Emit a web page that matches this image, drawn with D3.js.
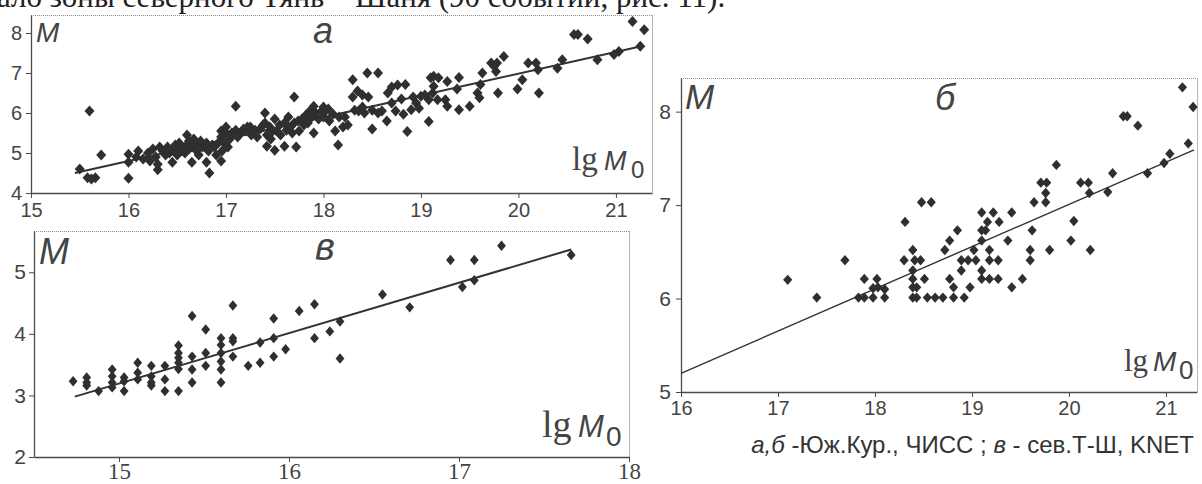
<!DOCTYPE html>
<html>
<head>
<meta charset="utf-8">
<script src="https://cdn.jsdelivr.net/npm/d3@7"></script>
<style>
  body { margin: 0; background: #fff; }
  svg { display: block; }
</style>
</head>
<body>
<svg id="chart" width="1202" height="484"></svg>
<script>
// header line, cut by the top edge of the scan
const headerText = "ало зоны северного Тянь – Шаня (90 событий, рис. 11).";

// panel а : lg M0 vs M, South Kuril, ЧИСС
const ticksAx = [15, 16, 17, 18, 19, 20, 21];
const ticksAy = [4, 5, 6, 7, 8];
const lineA = [[15.45, 4.5], [21.26, 7.67]];
const pointsA = [
  [15.5,4.6],[15.58,4.38],[15.62,4.35],[15.66,4.38],[15.6,6.05],[15.72,4.95],
  [16.0,4.97],[16.0,4.77],[16.0,4.37],[16.08,4.9],[16.1,5.05],[16.15,4.85],[16.2,5.0],[16.22,4.8],
  [16.25,5.1],[16.28,4.9],[16.3,4.72],[16.3,4.58],[16.32,5.15],[16.35,5.05],[16.38,4.95],[16.4,5.15],
  [16.42,5.0],[16.45,4.77],[16.45,5.07],[16.48,5.2],[16.5,5.1],[16.5,4.95],[16.52,5.25],[16.55,5.05],
  [16.55,5.15],[16.58,5.0],[16.6,5.2],[16.6,5.45],[16.62,5.3],[16.62,5.1],[16.65,4.77],[16.65,5.15],
  [16.67,5.35],[16.7,5.25],[16.7,5.05],[16.72,4.95],[16.74,5.3],[16.76,5.15],[16.78,5.2],[16.8,4.77],
  [16.8,5.25],[16.82,5.05],[16.83,4.5],[16.86,5.2],[16.88,5.15],[16.9,4.95],[16.92,5.25],[16.95,5.55],
  [16.95,5.4],[16.95,4.8],[16.96,5.05],[16.98,5.25],[17.0,5.65],[17.0,5.5],[17.02,5.15],[17.04,5.35],
  [17.06,5.5],[17.1,6.17],[17.1,5.57],[17.12,5.4],[17.15,5.5],[17.18,5.6],[17.2,5.55],[17.22,5.65],
  [17.25,5.65],[17.26,5.45],[17.3,5.57],[17.32,5.4],[17.35,5.6],[17.38,5.7],[17.4,6.0],[17.4,5.75],
  [17.42,5.45],[17.42,5.17],[17.45,5.65],[17.46,5.35],[17.48,5.55],[17.5,5.85],[17.5,5.07],[17.52,5.55],
  [17.55,5.7],[17.56,5.45],[17.6,5.75],[17.6,5.17],[17.62,5.57],[17.64,5.9],[17.66,5.65],[17.68,5.5],
  [17.7,6.4],[17.7,5.75],[17.72,5.15],[17.74,5.8],[17.75,5.55],[17.78,5.85],[17.8,5.7],[17.82,5.95],
  [17.84,5.75],[17.86,6.05],[17.88,5.9],[17.9,6.17],[17.9,5.5],[17.92,6.0],[17.95,5.85],[17.98,6.05],
  [18.0,6.15],[18.0,5.9],[18.02,6.05],[18.05,6.1],[18.06,5.8],[18.1,5.97],[18.12,5.55],[18.15,5.2],
  [18.16,5.9],[18.2,5.65],[18.22,5.9],[18.25,5.7],[18.3,6.83],[18.3,6.4],[18.32,6.07],[18.35,6.55],
  [18.36,6.05],[18.4,6.45],[18.4,6.15],[18.42,6.0],[18.45,7.0],[18.46,6.4],[18.5,5.6],[18.5,6.07],
  [18.56,7.0],[18.56,6.0],[18.6,6.05],[18.65,5.8],[18.66,6.5],[18.7,6.65],[18.7,6.25],[18.74,6.05],
  [18.76,6.7],[18.8,6.35],[18.82,5.97],[18.84,6.71],[18.86,5.54],[18.9,6.08],[18.92,6.4],[18.95,6.25],
  [18.98,6.12],[19.0,6.42],[19.04,6.45],[19.08,5.79],[19.08,6.33],[19.1,6.88],[19.12,6.5],[19.13,6.67],
  [19.13,6.92],[19.17,6.33],[19.18,6.88],[19.25,6.33],[19.27,6.17],[19.27,6.79],[19.37,6.6],[19.39,6.89],
  [19.39,6.08],[19.5,6.17],[19.58,6.5],[19.6,6.38],[19.61,6.71],[19.63,7.0],[19.72,7.25],[19.75,7.17],
  [19.77,7.04],[19.78,7.25],[19.79,6.5],[19.85,7.41],[19.99,6.6],[20.04,6.83],[20.1,7.25],[20.18,7.25],
  [20.2,7.08],[20.21,6.5],[20.4,7.12],[20.45,7.33],[20.57,7.96],[20.61,7.96],[20.71,7.85],[20.81,7.33],
  [20.98,7.46],[21.03,7.54],[21.17,8.29],[21.25,7.67],[21.29,8.08]
];

// panel б
const ticksBx = [16, 17, 18, 19, 20, 21];
const ticksBy = [5, 6, 7, 8];
const lineB = [[16, 5.2], [21.29, 7.59]];
const pointsB = [
  [17.1,6.2],[17.4,6.01],[17.69,6.41],
  [17.83,6.01],[17.89,6.21],[17.89,6.01],[17.98,6.11],[17.98,6.01],[18.02,6.21],[18.03,6.12],[18.1,6.1],[18.1,6.01],
  [18.31,6.82],[18.3,6.41],[18.39,6.52],[18.39,6.3],[18.39,6.21],[18.39,6.12],[18.39,6.01],[18.41,6.41],[18.43,6.12],[18.43,6.01],
  [18.48,7.03],[18.58,7.03],[18.47,6.41],[18.51,6.21],[18.54,6.01],[18.62,6.01],[18.7,6.01],
  [18.72,6.52],[18.77,6.62],[18.77,6.21],[18.81,6.12],[18.81,6.01],[18.85,6.73],[18.89,6.3],[18.89,6.41],
  [18.92,6.01],[18.96,6.41],[18.98,6.12],[19.02,6.52],[19.04,6.41],
  [19.1,6.92],[19.1,6.73],[19.1,6.62],[19.1,6.3],[19.1,6.21],[19.14,6.73],[19.16,6.82],
  [19.18,6.52],[19.18,6.41],[19.18,6.21],[19.22,6.92],[19.27,6.41],[19.27,6.21],[19.28,6.82],
  [19.37,6.62],[19.41,6.92],[19.41,6.12],[19.52,6.21],[19.6,6.52],[19.6,6.41],[19.62,6.73],[19.64,7.03],
  [19.71,7.24],[19.77,7.24],[19.76,7.13],[19.76,7.03],[19.8,6.52],[19.87,7.43],
  [20.02,6.62],[20.05,6.83],[20.12,7.24],[20.2,7.24],[20.21,7.13],[20.22,6.52],
  [20.4,7.14],[20.45,7.34],[20.56,7.95],[20.6,7.95],[20.71,7.85],[20.81,7.34],
  [20.98,7.45],[21.04,7.55],[21.17,8.26],[21.23,7.66],[21.28,8.05]
];

// panel в : northern Tien Shan, KNET
const ticksVx = [15, 16, 17, 18];
const ticksVy = [2, 3, 4, 5];
const lineV = [[14.74, 2.98], [17.66, 5.37]];
const pointsV = [
  [14.73,3.23],[14.81,3.29],[14.81,3.21],[14.81,3.16],[14.88,3.07],
  [14.96,3.42],[14.96,3.31],[14.96,3.21],[14.96,3.13],[15.03,3.29],[15.03,3.23],[15.03,3.07],
  [15.11,3.53],[15.11,3.37],[15.11,3.26],[15.19,3.48],[15.19,3.31],[15.19,3.21],[15.19,3.16],
  [15.27,3.48],[15.27,3.26],[15.27,3.07],
  [15.35,3.81],[15.35,3.69],[15.35,3.61],[15.35,3.53],[15.35,3.43],[15.35,3.07],
  [15.43,4.29],[15.43,3.63],[15.43,3.42],[15.43,3.21],[15.51,4.07],[15.51,3.69],[15.51,3.48],
  [15.6,3.93],[15.6,3.82],[15.6,3.69],[15.6,3.55],[15.6,3.42],[15.6,3.21],
  [15.67,4.46],[15.67,3.93],[15.67,3.88],[15.67,3.63],[15.76,3.48],[15.83,3.86],[15.83,3.53],
  [15.91,4.25],[15.91,3.93],[15.91,3.63],[15.98,3.75],[16.06,4.37],[16.15,4.48],[16.15,3.93],
  [16.24,4.04],[16.3,4.2],[16.3,3.6],[16.55,4.64],[16.71,4.43],
  [16.95,5.2],[17.02,4.76],[17.09,5.2],[17.09,4.87],[17.25,5.43],[17.66,5.28]
];

// caption under panel б
const captionParts = [
  { t: "а,б", italic: true }, { t: " -Юж.Кур., ЧИСС ; ", italic: false },
  { t: "в", italic: true }, { t: " - сев.Т-Ш, KNET", italic: false }
];

const SANS = "Liberation Sans, Arial, sans-serif";
const SERIF = "Liberation Serif, Times New Roman, serif";

const svg = d3.select("#chart");

svg.append("text")
  .attr("x", -3).attr("y", 7)
  .attr("font-family", SERIF).attr("font-size", 31)
  .attr("fill", "#222")
  .text(headerText);

function diamond(w, h) {
  return `M0,${-h}L${w},0L0,${h}L${-w},0Z`;
}

function drawPanel(p) {
  const x = d3.scaleLinear().domain(p.xDomain).range([p.left, p.right]);
  const y = d3.scaleLinear().domain(p.yDomain).range([p.bottom, p.top]);
  const g = svg.append("g");

  // light top / right frame
  g.append("line")
    .attr("x1", p.left).attr("x2", p.right).attr("y1", p.top + 0.5).attr("y2", p.top + 0.5)
    .attr("stroke", "#8a8a8a").attr("stroke-dasharray", "1,1");
  g.append("line")
    .attr("x1", p.right + 0.5).attr("x2", p.right + 0.5).attr("y1", p.top).attr("y2", p.bottom)
    .attr("stroke", "#b5b5b5");

  const fmt = d3.format("d");
  const xa = g.append("g")
    .attr("transform", `translate(0,${p.bottom})`)
    .call(d3.axisBottom(x).tickValues(p.xTicks).tickFormat(fmt)
      .tickSizeInner(5).tickSizeOuter(0).tickPadding(p.xPad));
  const ya = g.append("g")
    .attr("transform", `translate(${p.left},0)`)
    .call(d3.axisLeft(y).tickValues(p.yTicks).tickFormat(fmt)
      .tickSizeInner(5).tickSizeOuter(0).tickPadding(p.yPad));

  [xa, ya].forEach(a => {
    a.attr("font-family", null).attr("font-size", null);
    a.select(".domain").attr("stroke", "#4a4a4a").attr("stroke-width", 1.3);
    a.selectAll(".tick line").attr("stroke", "#4a4a4a");
  });
  xa.selectAll("text").attr("font-family", p.xFont).attr("font-size", p.xSize).attr("fill", "#444");
  ya.selectAll("text").attr("font-family", SANS).attr("font-size", p.ySize).attr("fill", "#444");

  // fitted line
  g.append("path")
    .datum(p.line)
    .attr("fill", "none")
    .attr("stroke", "#333")
    .attr("stroke-width", p.lineW)
    .attr("d", d3.line().x(d => x(d[0])).y(d => y(d[1])));

  // points
  g.selectAll("path.pt")
    .data(p.points)
    .join("path")
    .attr("class", "pt")
    .attr("d", diamond(p.dw, p.dh))
    .attr("transform", d => `translate(${x(d[0])},${y(d[1])})`)
    .attr("fill", "#2f2f2f");

  // "M" axis label and panel letter
  g.append("text")
    .attr("x", p.mLabel[0]).attr("y", p.mLabel[1])
    .attr("font-family", SANS).attr("font-style", "italic")
    .attr("font-size", p.mLabel[2]).attr("fill", "#444")
    .text("M");
  g.append("text")
    .attr("x", p.letter[0]).attr("y", p.letter[1])
    .attr("text-anchor", "middle")
    .attr("font-family", SANS).attr("font-style", "italic")
    .attr("font-size", p.letter[2]).attr("fill", "#444")
    .text(p.letterText);

  // lg M0
  const lg = p.lgLabel;
  const t = g.append("text").attr("y", lg.base).attr("fill", "#444");
  t.append("tspan").attr("x", lg.lgX)
    .attr("font-family", SERIF).attr("font-size", lg.lgSize).text("lg");
  t.append("tspan").attr("x", lg.mX)
    .attr("font-family", SANS).attr("font-style", "italic").attr("font-size", lg.mSize).text("M");
  t.append("tspan").attr("x", lg.zX).attr("dy", lg.zDy)
    .attr("font-family", SANS).attr("font-size", lg.zSize).text("0");
}

drawPanel({
  left: 31, right: 652, top: 15, bottom: 193,
  xDomain: [15, 21.37], yDomain: [4, 8.45],
  xTicks: ticksAx, yTicks: ticksAy, xPad: 5, yPad: 4,
  xFont: SANS, xSize: 20, ySize: 20,
  line: lineA, lineW: 2, points: pointsA, dw: 5, dh: 5.5,
  mLabel: [36, 42, 28], letter: [323, 43, 36], letterText: "а",
  lgLabel: { lgX: 572, mX: 604, zX: 631, base: 170, lgSize: 33, mSize: 27, zSize: 24, zDy: 8 }
});

drawPanel({
  left: 34, right: 629, top: 231, bottom: 457,
  xDomain: [14.5, 18], yDomain: [2, 5.67],
  xTicks: ticksVx, yTicks: ticksVy, xPad: 1, yPad: 3,
  xFont: SERIF, xSize: 23, ySize: 21,
  line: lineV, lineW: 2, points: pointsV, dw: 4.4, dh: 5.2,
  mLabel: [39, 264, 36], letter: [325, 260, 38], letterText: "в",
  lgLabel: { lgX: 542, mX: 578, zX: 606, base: 437, lgSize: 38, mSize: 31, zSize: 28, zDy: 9 }
});

drawPanel({
  left: 681, right: 1197, top: 78, bottom: 392,
  xDomain: [16, 21.32], yDomain: [5, 8.36],
  xTicks: ticksBx, yTicks: ticksBy, xPad: 4, yPad: 5,
  xFont: SANS, xSize: 20, ySize: 21,
  line: lineB, lineW: 1.4, points: pointsB, dw: 4.6, dh: 5.2,
  mLabel: [685, 109, 35], letter: [945, 110, 36], letterText: "б",
  lgLabel: { lgX: 1124, mX: 1153, zX: 1179, base: 371, lgSize: 31, mSize: 28, zSize: 26, zDy: 8 }
});

// caption
const cap = svg.append("text")
  .attr("x", 1194).attr("y", 453)
  .attr("text-anchor", "end")
  .attr("font-family", SANS).attr("font-size", 24)
  .attr("fill", "#333");
captionParts.forEach(c => {
  cap.append("tspan")
    .attr("font-style", c.italic ? "italic" : "normal")
    .text(c.t);
});
</script>
</body>
</html>
